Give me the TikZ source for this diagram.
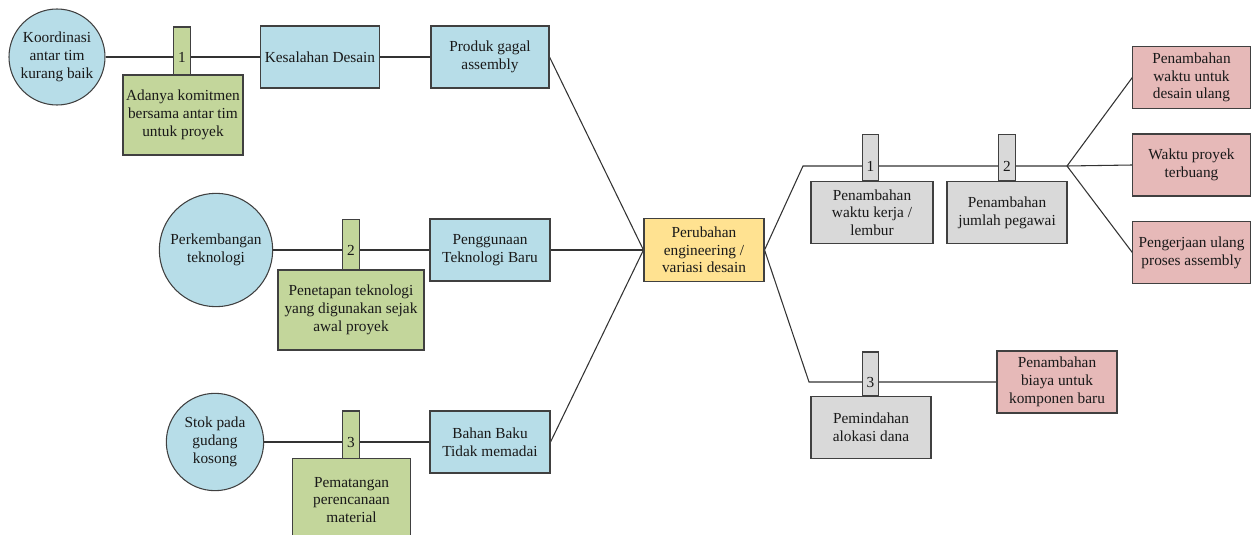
\documentclass[tikz,border=0pt]{standalone}
\usepackage{fontspec}
\setmainfont{Liberation Serif}
\usetikzlibrary{backgrounds}
\definecolor{cblue}{RGB}{183,221,232}
\definecolor{cgreen}{RGB}{195,214,155}
\definecolor{cyellow}{RGB}{255,226,145}
\definecolor{cgray}{RGB}{217,217,217}
\definecolor{cred}{RGB}{230,185,184}
\definecolor{cedge}{RGB}{64,64,64}
\tikzset{
  base/.style={draw=cedge, line width=0.8pt, align=center, inner sep=1pt,
    font=\fontsize{11.5}{13.3}\selectfont, text=black!90},
  bluebox/.style={base, rectangle, fill=cblue},
  greenbox/.style={base, rectangle, fill=cgreen},
  graybox/.style={base, rectangle, fill=cgray},
  redbox/.style={base, rectangle, fill=cred},
  yellowbox/.style={base, rectangle, fill=cyellow},
  bluecirc/.style={base, circle, fill=cblue},
  tabbox/.style={base, rectangle, minimum width=12.5pt, minimum height=36pt},
  numtext/.style={font=\fontsize{11.5}{13.3}\selectfont, inner sep=0pt, text=black!90},
  conn/.style={draw=black!80, line width=0.8pt},
}
\begin{document}
\begin{tikzpicture}[x=0.75pt, y=-0.75pt]
\useasboundingbox (0,0) rectangle (1252,535);
% ---- nodes (positions in px) ----
% top row
\node[bluecirc, minimum size=72pt] (c1) at (57,57) {Koordinasi\\antar tim\\kurang baik};
\node[bluebox, minimum width=89pt, minimum height=46.5pt] (k1) at (320,57) {Kesalahan Desain};
\node[bluebox, minimum width=88.5pt, minimum height=46.5pt] (p1) at (490,57) {Produk gagal\\assembly};
% middle row
\node[bluecirc, minimum size=85pt] (c2) at (216,250) {Perkembangan\\teknologi};
\node[bluebox, minimum width=90pt, minimum height=46.5pt] (p2) at (490,250) {Penggunaan\\Teknologi Baru};
% bottom row
\node[bluecirc, minimum size=73pt] (c3) at (215,442) {Stok pada\\gudang\\kosong};
\node[bluebox, minimum width=90pt, minimum height=46.5pt] (p3) at (490,442) {Bahan Baku\\Tidak memadai};
% center
\node[yellowbox, minimum width=90pt, minimum height=47pt] (m) at (704,250) {Perubahan\\engineering /\\variasi desain};
% right side junctions
\coordinate (j1) at (803,166);
\coordinate (j2) at (809,382);
\coordinate (h1) at (1067,166);
% red boxes
\node[redbox, minimum width=88pt, minimum height=47pt] (e1) at (1191.5,77.5) {Penambahan\\waktu untuk\\desain ulang};
\node[redbox, minimum width=88pt, minimum height=46.5pt] (e2) at (1191.5,165) {Waktu proyek\\terbuang};
\node[redbox, minimum width=88pt, minimum height=46pt] (e3) at (1191.5,252.5) {Pengerjaan ulang\\proses assembly};
\node[redbox, minimum width=90pt, minimum height=46.5pt] (e4) at (1057,382) {Penambahan\\biaya untuk\\komponen baru};

% ---- tabs and boxes ----
\node[tabbox, fill=cgreen] (t1) at (182,51) {};
\node[numtext] (n1) at (182,57) {1};
\node[greenbox, minimum width=90pt, minimum height=60pt] (g1) at (183,115) {Adanya komitmen\\bersama antar tim\\untuk proyek};

\node[tabbox, fill=cgreen, minimum height=38pt] (t2) at (351,244.5) {};
\node[numtext] (n2) at (351,250) {2};
\node[greenbox, minimum width=109.5pt, minimum height=60pt] (g2) at (351,310) {Penetapan teknologi\\yang digunakan sejak\\awal proyek};

\node[tabbox, fill=cgreen] (t3) at (351,435) {};
\node[numtext] (n3) at (351,442) {3};
\node[greenbox, minimum width=89pt, minimum height=62pt] (g3) at (351.5,500) {Pematangan\\perencanaan\\material};

\node[tabbox, fill=cgray, minimum height=35pt] (r1t) at (870.5,157.5) {};
\node[numtext] (rn1) at (870.5,166) {1};
\node[graybox, minimum width=91.5pt, minimum height=47pt] (r1) at (872,212.5) {Penambahan\\waktu kerja /\\lembur};

\node[tabbox, fill=cgray, minimum height=35pt] (r2t) at (1007,157.5) {};
\node[numtext] (rn2) at (1007,166) {2};
\node[graybox, minimum width=90pt, minimum height=47pt] (r2) at (1007,212.5) {Penambahan\\jumlah pegawai};

\node[tabbox, fill=cgray, minimum height=33pt] (r3t) at (870.5,374) {};
\node[numtext] (rn3) at (870.5,382) {3};
\node[graybox, minimum width=90pt, minimum height=47pt] (r3) at (871,427.5) {Pemindahan\\alokasi dana};

% ---- connectors (behind nodes) ----
\begin{scope}[on background layer]
\draw[conn] (c1) -- (k1);
\draw[conn] (k1) -- (p1);
\draw[conn] (c2) -- (p2);
\draw[conn] (c3) -- (p3);
\draw[conn] (p1.east) -- (m.west);
\draw[conn] (p2.east) -- (m.west);
\draw[conn] (p3.east) -- (m.west);
\draw[conn] (m.east) -- (j1) -- (h1);
\draw[conn] (m.east) -- (j2) -- (e4.west);
\draw[conn] (h1) -- (e1.west);
\draw[conn] (h1) -- (e2.west);
\draw[conn] (h1) -- (e3.west);
\end{scope}
\end{tikzpicture}
\end{document}
